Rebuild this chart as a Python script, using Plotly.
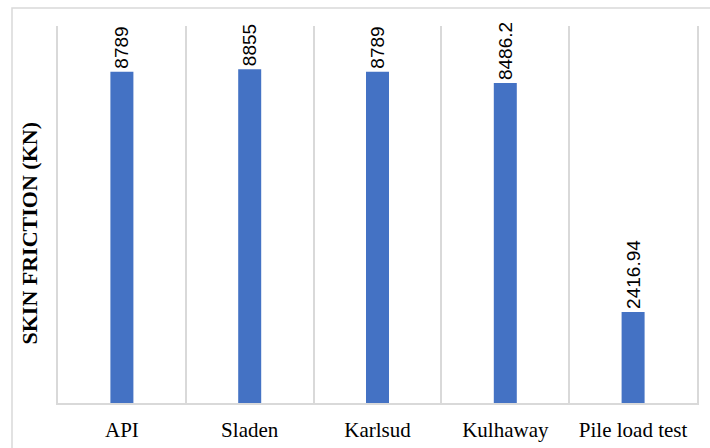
import plotly.graph_objects as go

methods = ["API", "Sladen", "Karlsud", "Kulhaway", "Pile load test"]
skin_friction = [8789, 8855, 8789, 8486.2, 2416.94]
value_labels = ["8789", "8855", "8789", "8486.2", "2416.94"]

GRID = "#d9d9d9"
BAR = "#4472C4"

fig = go.Figure(
    go.Bar(
        x=methods,
        y=skin_friction,
        text=value_labels,
        textposition="outside",
        textangle=-90,
        constraintext="none",
        cliponaxis=False,
        width=0.18,
        marker=dict(color=BAR, line=dict(width=0)),
        textfont=dict(family="Liberation Sans", size=19, color="#000000"),
        hoverinfo="x+y",
    )
)

fig.update_layout(
    width=710,
    height=448,
    margin=dict(l=58, r=13, t=26, b=45),
    paper_bgcolor="white",
    plot_bgcolor="white",
    showlegend=False,
    font=dict(family="Liberation Serif", color="#000000"),
    xaxis=dict(
        type="category",
        tickson="boundaries",
        showgrid=True,
        gridcolor=GRID,
        gridwidth=1.5,
        showline=True,
        linecolor=GRID,
        linewidth=1.5,
        ticks="",
        automargin=False,
        ticklabelstandoff=7,
        tickfont=dict(family="Liberation Serif", size=21, color="#000000"),
        range=[-0.5, 4.5],
    ),
    yaxis=dict(
        range=[0, 10000],
        showgrid=False,
        zeroline=False,
        showticklabels=False,
        ticks="",
        automargin=False,
        showline=True,
        mirror=True,
        linecolor=GRID,
        linewidth=1.5,
    ),
    annotations=[
        dict(
            text="<b>SKIN FRICTION (KN)</b>",
            xref="paper",
            yref="paper",
            x=(29 - 58) / 639,
            y=(403 - 233.5) / 377,
            xanchor="center",
            yanchor="middle",
            textangle=-90,
            showarrow=False,
            font=dict(family="Liberation Serif", size=22, color="#000000"),
        )
    ],
    shapes=[
        # light outer frame of the chart area
        dict(
            type="rect",
            xref="paper",
            yref="paper",
            x0=(12 - 58) / 639,
            x1=(720 - 58) / 639,
            y0=(403 - 460) / 377,
            y1=(403 - 8) / 377,
            line=dict(color=GRID, width=1.5),
            layer="below",
        )
    ],
)

fig.write_html("out.html")
